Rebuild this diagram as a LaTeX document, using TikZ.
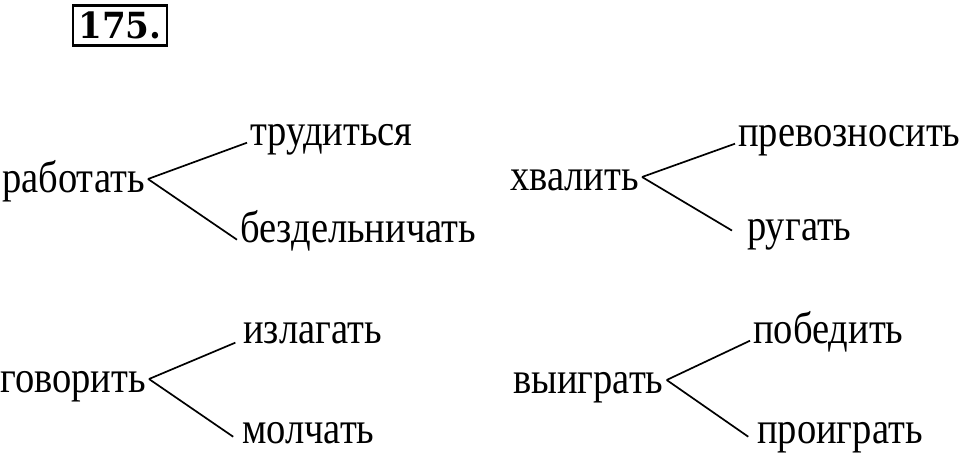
\documentclass[tikz,border=0pt]{standalone}
\usepackage{fontspec}
\setmainfont{Liberation Serif}
\newfontfamily\wordfont[FakeStretch=0.86]{Liberation Serif}
\newfontfamily\numfont[FakeStretch=0.95]{DejaVu Serif}
\usetikzlibrary{positioning}

\begin{document}
\begin{tikzpicture}[
    x=1pt, y=-1pt,
    word/.style={
        font=\wordfont\fontsize{44.8}{46}\selectfont,
        inner xsep=3pt,
        inner ysep=0pt,
        text height=29pt,
        text depth=3pt,
        anchor=base west
    },
    headword/.style={word},
    branch/.style={draw=black, line width=1.7pt},
    numbox/.style={
        draw=black,
        line width=2.6pt,
        minimum width=94pt,
        minimum height=40pt,
        inner sep=0pt,
        font=\numfont\bfseries\fontsize{36}{37}\selectfont
    }
]

    \useasboundingbox (0,0) rectangle (960,455);

    % --- Number ---
    \node[numbox] (num) at (120,25.5) {175.};

    % --- Row 1 ---

    % Nodes
    \node[headword] (rabotat) at (-1,192) {работать};
    \node[word] (trudit) at (247,145) {трудиться};
    \node[word] (bezdel) at (237,242) {бездельничать};

    \node[headword] (hvalit) at (507,190) {хвалить};
    \node[word] (prevozn) at (735,146) {превозносить};
    \node[word] (rugat) at (744,240) {ругать};

    % Branches
    \draw[branch] (rabotat.east) -- (trudit.mid west);
    \draw[branch] (rabotat.east) -- (bezdel.mid west);
    \draw[branch] (hvalit.east) -- (prevozn.mid west);
    \draw[branch, shorten >=14pt] (hvalit.east) -- (rugat.mid west);

    % --- Row 2 ---

    % Nodes
    \node[headword] (govorit) at (-3,392) {говорить};
    \node[word] (izlagat) at (240,343) {излагать};
    \node[word] (molchat) at (239,443) {молчать};

    \node[headword] (vyigrat) at (510,393) {выиграть};
    \node[word] (pobedit) at (750,343) {победить};
    \node[word] (proigrat) at (754,443) {проиграть};

    % Branches
    \draw[branch, shorten >=5pt] (govorit.east) -- (izlagat.mid west);
    \draw[branch, shorten >=7pt] (govorit.east) -- (molchat.mid west);
    \draw[branch] (vyigrat.east) -- (pobedit.mid west);
    \draw[branch, shorten >=7pt] (vyigrat.east) -- (proigrat.mid west);

\end{tikzpicture}
\end{document}
